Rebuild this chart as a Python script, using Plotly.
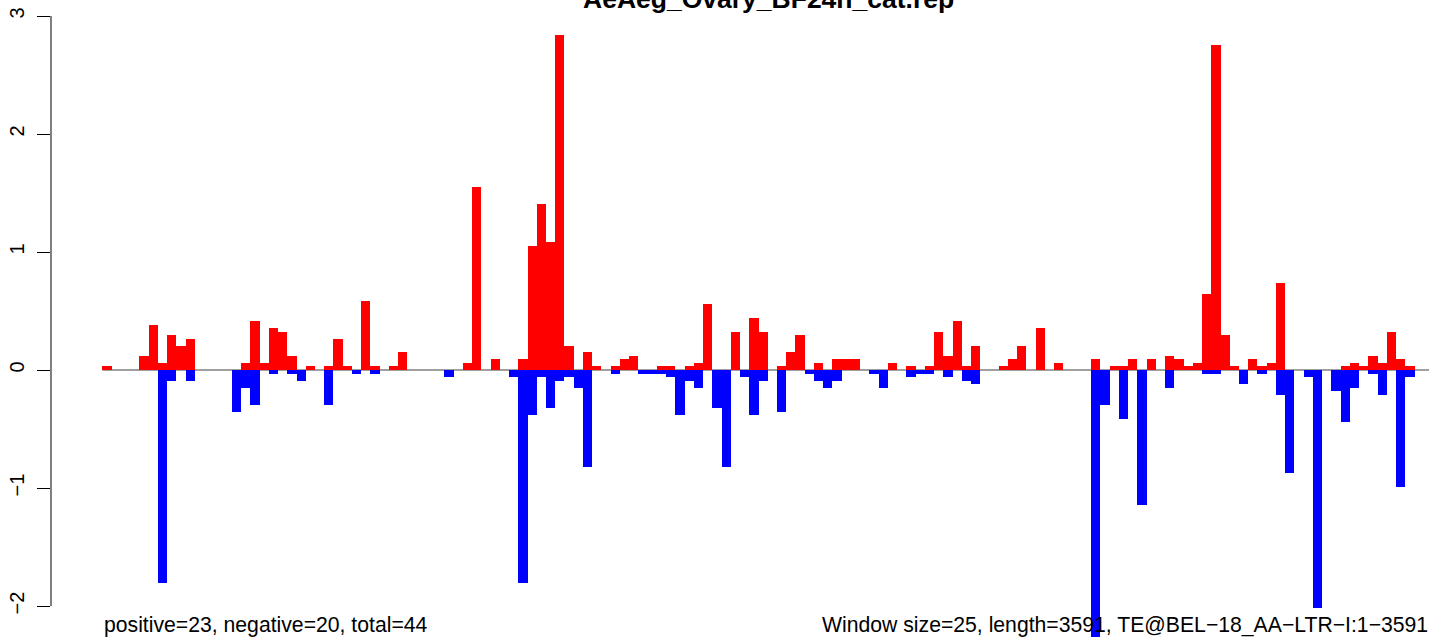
import plotly.graph_objects as go

# ---- data ----
title_text = "AeAeg_Ovary_BF24h_cat.rep"
left_note = "positive=23, negative=20, total=44"
right_note = "Window size=25, length=3591, TE@BEL\u221218_AA\u2212LTR\u2212I:1\u22123591"

positive = [
    0, 0, 0.034, 0, 0, 0, 0.119, 0.381, 0.059, 0.297,
    0.203, 0.263, 0, 0, 0, 0, 0, 0.059, 0.415, 0.059,
    0.356, 0.322, 0.119, 0, 0.034, 0, 0.034, 0.263, 0.034, 0,
    0.585, 0.034, 0, 0.034, 0.153, 0, 0, 0, 0, 0,
    0, 0.059, 1.551, 0, 0.093, 0, 0, 0.093, 1.051, 1.407,
    1.085, 2.839, 0.203, 0, 0.153, 0.034, 0, 0.034, 0.093, 0.119,
    0, 0, 0.034, 0.034, 0, 0.034, 0.059, 0.559, 0, 0,
    0.322, 0, 0.441, 0.322, 0, 0.034, 0.153, 0.297, 0, 0.059,
    0, 0.093, 0.093, 0.093, 0, 0, 0, 0.059, 0, 0.034,
    0, 0.034, 0.322, 0.119, 0.415, 0.034, 0.203, 0, 0, 0.034,
    0.093, 0.203, 0, 0.356, 0, 0.059, 0, 0, 0, 0.093,
    0, 0.034, 0.034, 0.093, 0, 0.093, 0, 0.119, 0.093, 0.034,
    0.059, 0.644, 2.754, 0.297, 0.034, 0, 0.093, 0.034, 0.059, 0.737,
    0, 0, 0, 0, 0, 0, 0.034, 0.059, 0.034, 0.119,
    0.059, 0.322, 0.093, 0.034,
]

negative = [
    0, 0, 0, 0, 0, 0, 0, 0, -1.805, -0.090,
    0, -0.090, 0, 0, 0, 0, -0.356, -0.153, -0.297, 0,
    -0.034, 0, -0.034, -0.090, 0, 0, -0.297, 0, 0, -0.034,
    0, -0.034, 0, 0, 0, 0, 0, 0, 0, -0.059,
    0, 0, 0, 0, 0, 0, -0.059, -1.805, -0.381, -0.059,
    -0.322, -0.090, -0.059, -0.153, -0.819, 0, 0, -0.034, 0, 0,
    -0.034, -0.034, -0.034, -0.059, -0.381, -0.090, -0.153, 0, -0.322, -0.819,
    0, -0.059, -0.381, -0.090, 0, -0.356, 0, 0, -0.034, -0.090,
    -0.153, -0.090, 0, 0, 0, -0.034, -0.153, 0, 0, -0.059,
    -0.034, -0.034, 0, -0.059, 0, -0.090, -0.119, 0, 0, 0,
    0, 0, 0, 0, 0, 0, 0, 0, 0, -2.4,
    -0.297, 0, -0.415, 0, -1.14, 0, 0, -0.153, 0, 0,
    0, -0.034, -0.034, 0, 0, -0.119, 0, -0.034, 0, -0.212,
    -0.87, 0, -0.059, -2.02, 0, -0.178, -0.441, -0.153, 0, -0.034,
    -0.212, 0, -0.99, -0.059,
]

y_tick_vals = [-2, -1, 0, 1, 2, 3]
y_tick_text = ["\u22122", "\u22121", "0", "1", "2", "3"]

# ---- figure ----
n = len(positive)
xs = [i + 0.5 for i in range(n)]
FONT = "Liberation Sans, Arial, Helvetica, sans-serif"

fig = go.Figure()
fig.add_trace(go.Bar(x=xs, y=positive, width=1, marker=dict(color="#ff0000", line=dict(width=0)),
                     showlegend=False, hoverinfo="skip"))
fig.add_trace(go.Bar(x=xs, y=negative, width=1, marker=dict(color="#0000ff", line=dict(width=0)),
                     showlegend=False, hoverinfo="skip"))

W, H = 1429, 637
ML = 51
x_range = [-3.571, 145.563]
y_range = [-2.2627, 3.1356]

# zero reference line
fig.add_shape(type="line", xref="x", yref="y", x0=2, x1=x_range[1], y0=0, y1=0,
              line=dict(color="#a0a0a0", width=2), layer="below")
# y axis line from -2 to 3
fig.add_shape(type="line", xref="paper", yref="y", x0=0, x1=0,
              y0=y_tick_vals[0], y1=y_tick_vals[-1], line=dict(color="black", width=1))

pw = W - ML
def px_to_paper_x(px):
    return (px - ML) / pw
def px_to_paper_y(py):
    return 1 - py / H

fig.add_annotation(text="<b>%s</b>" % title_text, xref="paper", yref="paper",
                   x=px_to_paper_x(768.5), y=px_to_paper_y(-0.5), xanchor="center", yanchor="middle",
                   showarrow=False, font=dict(family=FONT, size=26.5, color="black"))
fig.add_annotation(text=left_note, xref="paper", yref="paper",
                   x=px_to_paper_x(102), y=px_to_paper_y(625.3), xanchor="left", yanchor="middle",
                   showarrow=False, font=dict(family=FONT, size=21.2, color="black"))
fig.add_annotation(text=right_note, xref="paper", yref="paper",
                   x=1.001, y=px_to_paper_y(625.3), xanchor="right", yanchor="middle",
                   showarrow=False, font=dict(family=FONT, size=21.2, color="black"))

fig.update_layout(
    width=W, height=H,
    margin=dict(l=ML, r=0, t=0, b=0, pad=0),
    paper_bgcolor="white", plot_bgcolor="white",
    barmode="overlay", bargap=0,
    xaxis=dict(range=x_range, visible=False, showgrid=False, zeroline=False),
    yaxis=dict(range=y_range, tickvals=y_tick_vals, ticktext=y_tick_text,
               ticks="outside", ticklen=13, tickwidth=1, tickcolor="black",
               tickangle=-90, showline=False, showgrid=False, zeroline=False,
               tickfont=dict(family=FONT, size=20, color="black"),
               ticklabelstandoff=5),
    font=dict(family=FONT),
)

fig.write_html("out.html", config={"displayModeBar": False},
               post_script="document.body.style.margin='0';document.body.style.overflow='hidden';")
